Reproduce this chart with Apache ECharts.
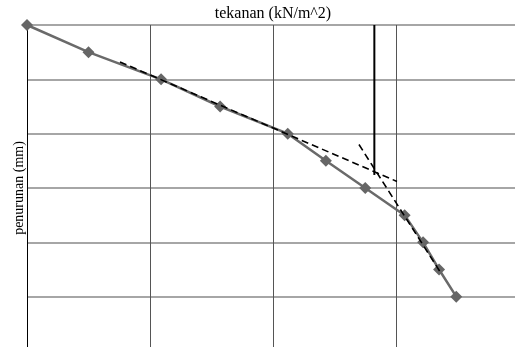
<!DOCTYPE html>
<html>
<head>
<meta charset="utf-8">
<script src="https://cdn.jsdelivr.net/npm/echarts@6/dist/echarts.min.js"></script>
<style>
  html, body { margin: 0; padding: 0; background: #fff; }
  #chart { width: 515px; height: 347px; }
</style>
</head>
<body>
<div id="chart"></div>
<script>
// Load–settlement test curve (pressure vs settlement)
const tekanan   = [0, 50, 109, 157, 212, 243, 275, 307, 322, 335, 349];
const penurunan = [0, 2.5, 5, 7.5, 10, 12.5, 15, 17.5, 20, 22.5, 25];

// Tangent construction lines: [pressure, settlement] end points
const tangentAwal  = [[75.6, 3.4], [300.8, 14.4]];
const tangentAkhir = [[269.9, 11.0], [335.8, 22.7]];
// Vertical line at the intersection pressure
const garisLeleh   = [[282.4, 0], [282.4, 13.8]];

const xName = 'tekanan (kN/m^2)';
const yName = 'penurunan (mm)';

const chart = echarts.init(document.getElementById('chart'));
chart.setOption({
  animation: false,
  grid: { left: 27, top: 25, width: 492, height: 326, outerBoundsMode: 'none', containLabel: false },
  xAxis: {
    type: 'value', position: 'top', min: 0, max: 400, interval: 100,
    name: xName, nameLocation: 'middle', nameGap: 3,
    nameTextStyle: { fontFamily: 'Liberation Serif', fontSize: 16, color: '#000' },
    axisLine: { show: false }, axisTick: { show: false }, axisLabel: { show: false },
    splitLine: { show: true, lineStyle: { color: '#555', width: 1 } }
  },
  yAxis: {
    type: 'value', inverse: true, min: 0, max: 30, interval: 5,
    name: yName, nameLocation: 'middle', nameGap: 1,
    nameTextStyle: { fontFamily: 'Liberation Serif', fontSize: 14, color: '#000' },
    axisLine: { show: true, lineStyle: { color: '#000', width: 1 } },
    axisTick: { show: false }, axisLabel: { show: false },
    splitLine: { show: true, lineStyle: { color: '#888', width: 1.5 } }
  },
  series: [
    {
      type: 'line',
      data: tekanan.map((x, i) => [x, penurunan[i]]),
      lineStyle: { color: '#6a6a6a', width: 2.5 },
      itemStyle: { color: '#666' },
      symbol: 'diamond', symbolSize: 12, z: 3
    },
    {
      type: 'line', data: tangentAwal, showSymbol: false,
      lineStyle: { color: '#000', width: 1.6, type: [7, 4] }, z: 4
    },
    {
      type: 'line', data: tangentAkhir, showSymbol: false,
      lineStyle: { color: '#000', width: 1.6, type: [7, 4] }, z: 4
    },
    {
      type: 'line', data: garisLeleh, showSymbol: false,
      lineStyle: { color: '#000', width: 2 }, z: 4
    }
  ]
});
</script>
</body>
</html>
